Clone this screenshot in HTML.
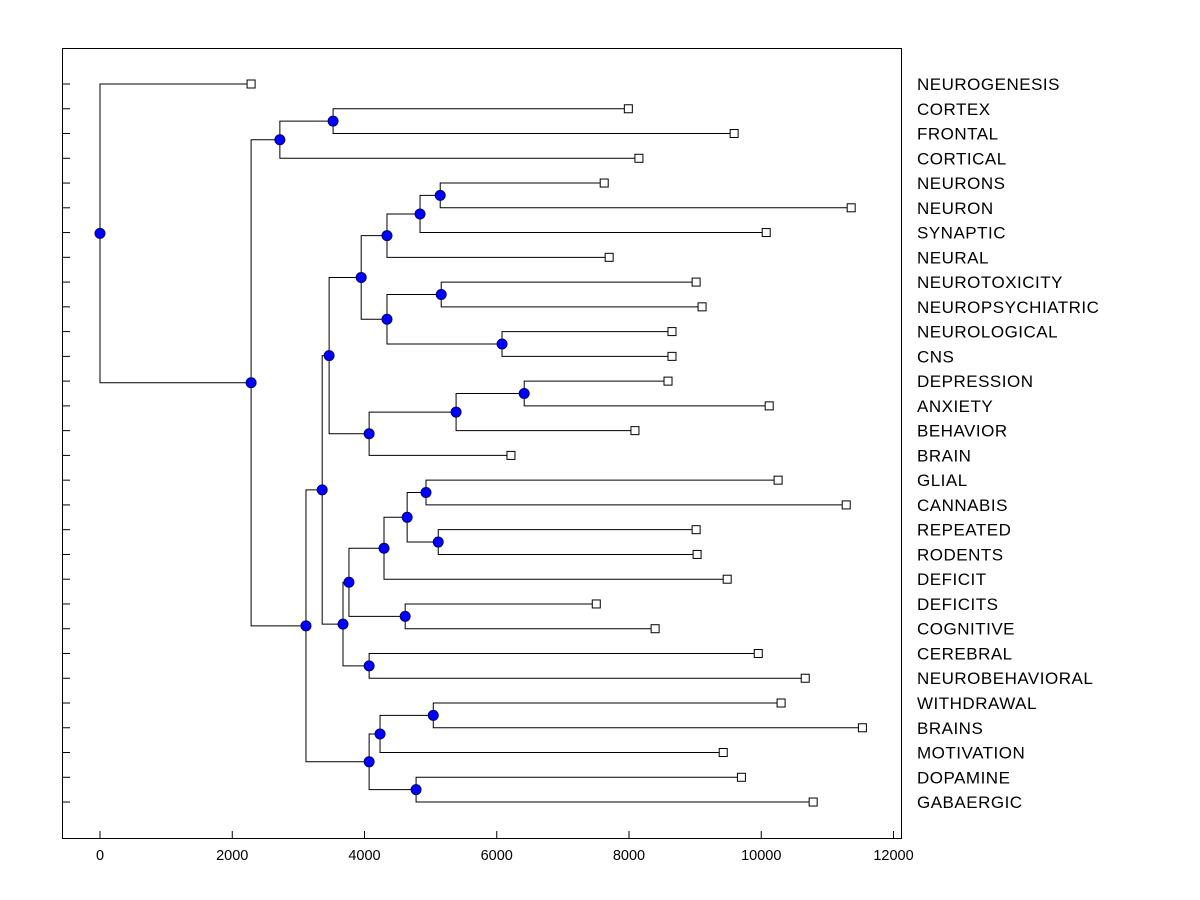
<!DOCTYPE html>
<html><head><meta charset="utf-8"><style>
html,body{margin:0;padding:0;background:#fff;}
svg{display:block;font-family:"Liberation Sans",Arial,sans-serif;}
</style></head><body>
<svg id="chart" width="1200" height="900"></svg>
<script>
const labels = ["NEUROGENESIS","CORTEX","FRONTAL","CORTICAL","NEURONS","NEURON","SYNAPTIC","NEURAL","NEUROTOXICITY","NEUROPSYCHIATRIC","NEUROLOGICAL","CNS","DEPRESSION","ANXIETY","BEHAVIOR","BRAIN","GLIAL","CANNABIS","REPEATED","RODENTS","DEFICIT","DEFICITS","COGNITIVE","CEREBRAL","NEUROBEHAVIORAL","WITHDRAWAL","BRAINS","MOTIVATION","DOPAMINE","GABAERGIC"];
const leafValues = [2285,7990,9590,8150,7625,11360,10075,7700,9015,9105,8650,8650,8590,10120,8090,6215,10255,11285,9015,9030,9485,7505,8395,9955,10665,10300,11530,9425,9700,10785];
const merges = [
 [4,5,5145],
 ["m0",6,4840],
 ["m1",7,4340],
 [8,9,5160],
 [10,11,6080],
 ["m3","m4",4340],
 ["m2","m5",3950],
 [12,13,6415],
 ["m7",14,5385],
 ["m8",15,4070],
 ["m6","m9",3465],
 [16,17,4930],
 [18,19,5115],
 ["m11","m12",4645],
 ["m13",20,4295],
 [21,22,4615],
 ["m14","m15",3765],
 [23,24,4070],
 ["m16","m17",3675],
 ["m10","m18",3360],
 [25,26,5040],
 ["m20",27,4235],
 [28,29,4780],
 ["m21","m22",4070],
 ["m19","m23",3115],
 [1,2,3525],
 ["m25",3,2720],
 ["m26","m24",2285],
 [0,"m27",0]
];
const xTicks = [0,2000,4000,6000,8000,10000,12000];

const svg = document.getElementById('chart');
const NS = 'http://www.w3.org/2000/svg';
const X = v => 100 + v * 0.066125;
const Y = i => 84 + i * 24.76;
function el(tag, attrs, parent){ const e=document.createElementNS(NS,tag); for(const k in attrs) e.setAttribute(k,attrs[k]); (parent||svg).appendChild(e); return e; }

const frame = el('rect',{x:62.5,y:48.5,width:839,height:790,fill:'none',stroke:'#000','stroke-width':1});



xTicks.forEach(t=>{
  const l = el('line',{x1:X(t),x2:X(t),y1:838,y2:831,stroke:'#000'});
  
  
  const tx = el('text',{x:X(t),y:860,'text-anchor':'middle','font-size':14.5});
  tx.textContent = t;
  
  
});

const lines = el('g',{stroke:'#000','stroke-width':1,fill:'none'});



const pos = {};
labels.forEach((lab,i)=>{
  pos[i] = {x:X(leafValues[i]), y:Y(i)};
  const tk = el('line',{x1:62,x2:70,y1:Y(i),y2:Y(i),stroke:'#000'});
  
  
  const t = el('text',{x:917,y:Y(i)+6,'font-size':17,'letter-spacing':0.5});
  t.textContent = lab;
  
  
});

const nodes = [];
merges.forEach((m,k)=>{
  const a = pos[m[0]], b = pos[m[1]];
  const x = X(m[2]);
  const y = (a.y+b.y)/2;
  pos['m'+k] = {x,y};
  el('path',{d:`M${a.x},${a.y}H${x}V${b.y}H${b.x}`},lines);
  nodes.push({x,y});
});

labels.forEach((lab,i)=>{
  const p = pos[i];
  const r = el('rect',{x:p.x-4,y:p.y-4,width:8,height:8,fill:'#fff',stroke:'#000'});
  
  
});
nodes.forEach(n=>{
  const c = el('circle',{cx:n.x,cy:n.y,r:5,fill:'#0000ff',stroke:'#00007a','stroke-width':1});
  
  
});
</script>
</body></html>
